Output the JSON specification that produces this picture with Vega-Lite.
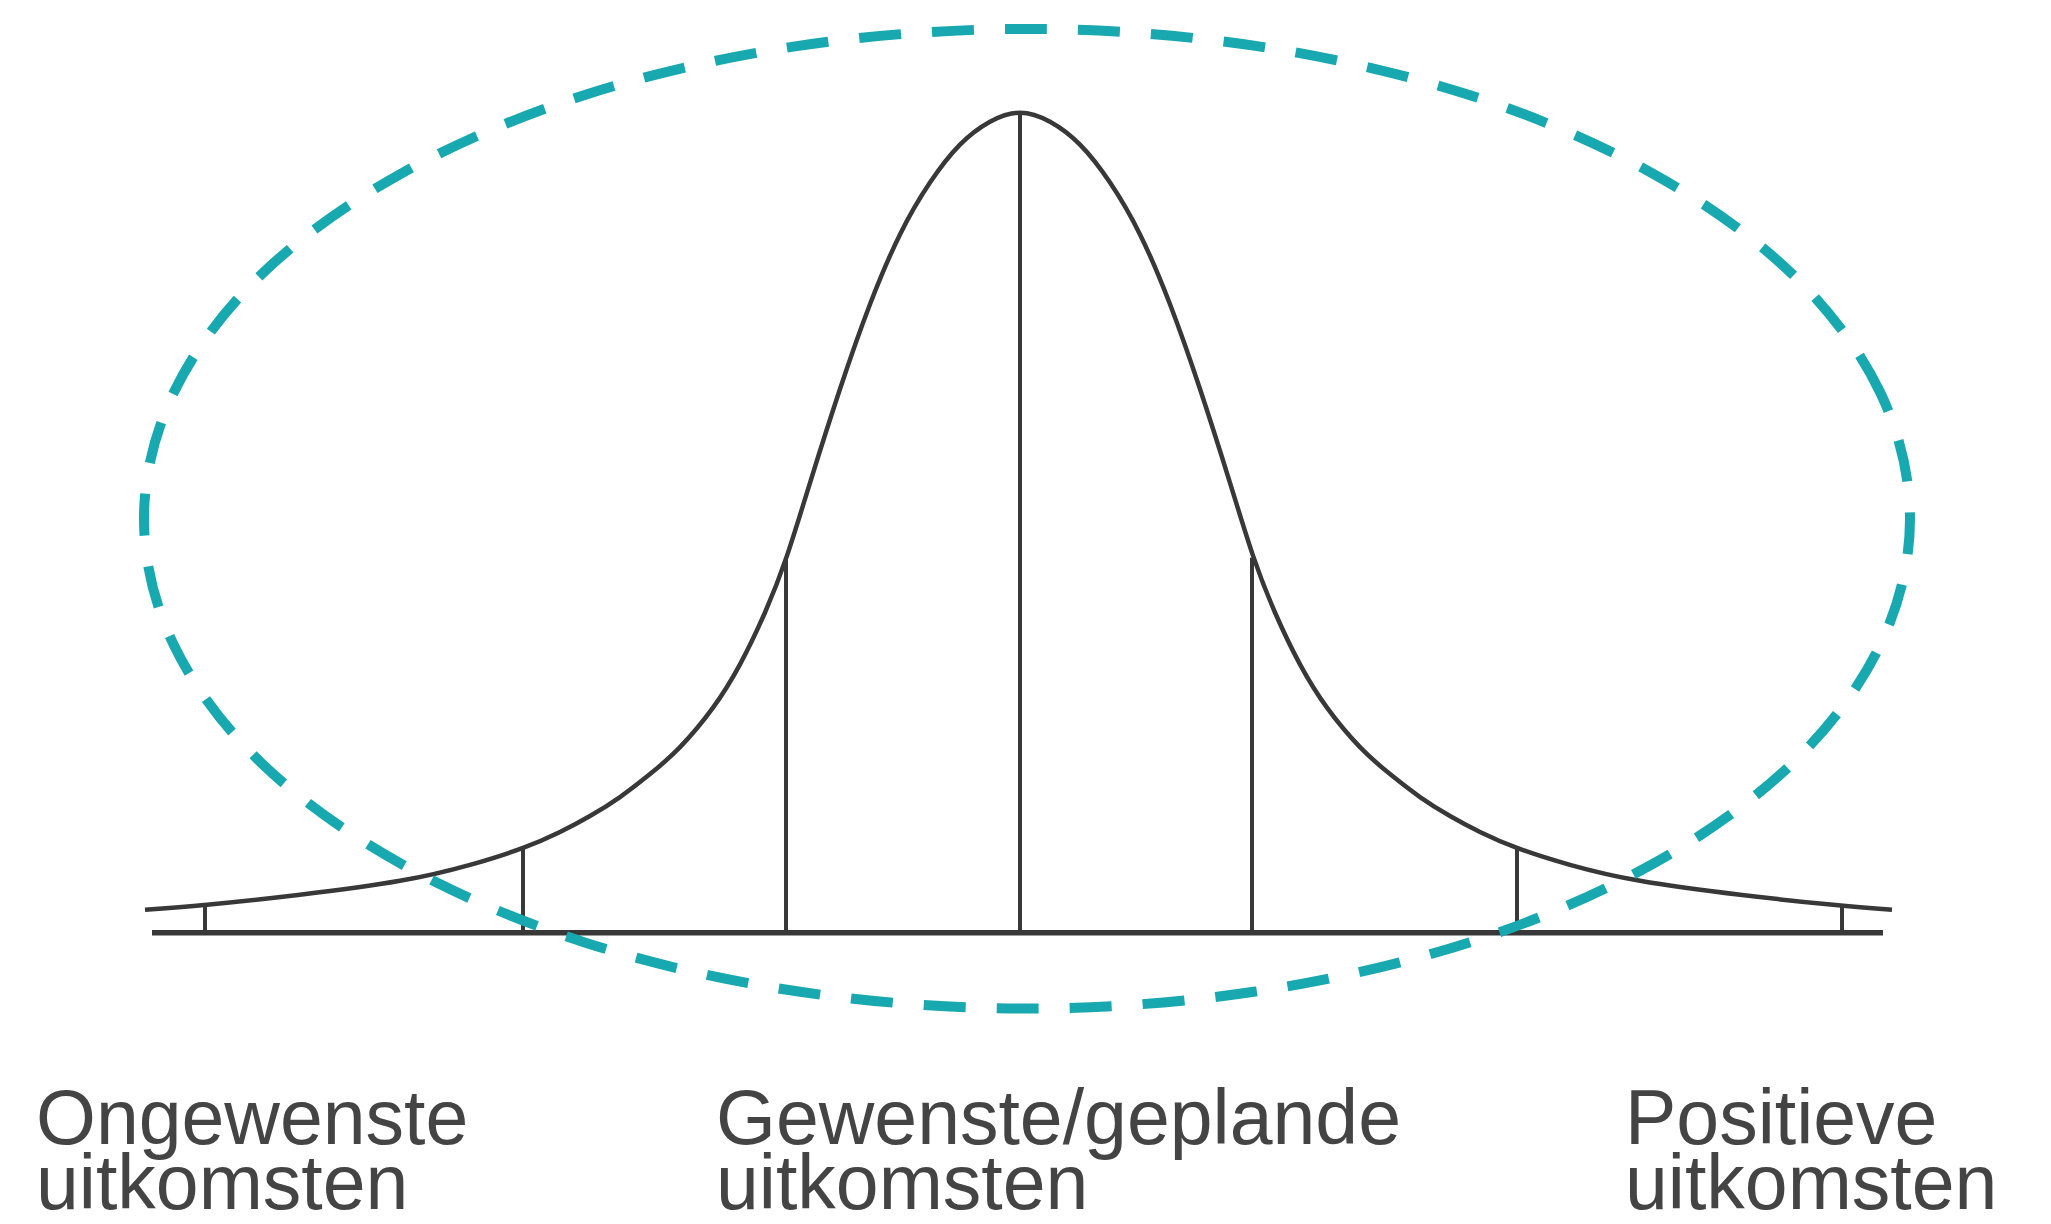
{
  "$schema": "https://vega.github.io/schema/vega-lite/v6.json",
  "autosize": {"type": "fit", "contains": "padding"},
  "width": 2051,
  "height": 1224,
  "padding": 0,
  "background": "white",
  "config": {"view": {"stroke": null}},
  "datasets": {
    "curve": [
      {"x": -3.5, "y": 0.115}, {"x": -3.252, "y": 0.14}, {"x": -2.88, "y": 0.19}, {"x": -2.48, "y": 0.26},
      {"x": -2.2, "y": 0.34}, {"x": -1.988, "y": 0.425}, {"x": -1.84, "y": 0.505}, {"x": -1.72, "y": 0.585},
      {"x": -1.6, "y": 0.68}, {"x": -1.48, "y": 0.795}, {"x": -1.36, "y": 0.93}, {"x": -1.228, "y": 1.128},
      {"x": -1.12, "y": 1.345}, {"x": -1.02, "y": 1.605}, {"x": -0.932, "y": 1.89}, {"x": -0.84, "y": 2.255},
      {"x": -0.72, "y": 2.725}, {"x": -0.6, "y": 3.15}, {"x": -0.48, "y": 3.5}, {"x": -0.36, "y": 3.76},
      {"x": -0.24, "y": 3.95}, {"x": -0.12, "y": 4.065}, {"x": 0, "y": 4.11},
      {"x": 0.12, "y": 4.065}, {"x": 0.24, "y": 3.95}, {"x": 0.36, "y": 3.76}, {"x": 0.48, "y": 3.5},
      {"x": 0.6, "y": 3.15}, {"x": 0.72, "y": 2.725}, {"x": 0.84, "y": 2.255}, {"x": 0.932, "y": 1.89},
      {"x": 1.02, "y": 1.605}, {"x": 1.12, "y": 1.345}, {"x": 1.228, "y": 1.128}, {"x": 1.36, "y": 0.93},
      {"x": 1.48, "y": 0.795}, {"x": 1.6, "y": 0.68}, {"x": 1.72, "y": 0.585}, {"x": 1.84, "y": 0.505},
      {"x": 1.988, "y": 0.425}, {"x": 2.2, "y": 0.34}, {"x": 2.48, "y": 0.26}, {"x": 2.88, "y": 0.19},
      {"x": 3.252, "y": 0.14}, {"x": 3.488, "y": 0.115}
    ],
    "verticals": [
      {"x": -3.26, "top": 0.14, "bottom": 0}, {"x": -1.988, "top": 0.425, "bottom": 0}, {"x": -0.936, "top": 1.88, "bottom": 0},
      {"x": 0, "top": 4.11, "bottom": 0}, {"x": 0.928, "top": 1.88, "bottom": 0}, {"x": 1.988, "top": 0.425, "bottom": 0}, {"x": 3.288, "top": 0.135, "bottom": 0}
    ],
    "base": [{"from": -3.472, "to": 3.452, "y": 0}],
    "ellipse": [
      {"i": 0, "x": 3.56, "y": 2.075}, {"i": 1, "x": 3.44, "y": 2.71}, {"i": 2, "x": 3.088, "y": 3.3025},
      {"i": 3, "x": 2.524, "y": 3.81}, {"i": 4, "x": 1.794, "y": 4.2}, {"i": 5, "x": 0.942, "y": 4.445},
      {"i": 6, "x": 0.028, "y": 4.53}, {"i": 7, "x": -0.886, "y": 4.445}, {"i": 8, "x": -1.738, "y": 4.2},
      {"i": 9, "x": -2.468, "y": 3.81}, {"i": 10, "x": -3.032, "y": 3.3025}, {"i": 11, "x": -3.384, "y": 2.71},
      {"i": 12, "x": -3.504, "y": 2.075}, {"i": 13, "x": -3.384, "y": 1.44}, {"i": 14, "x": -3.032, "y": 0.8475},
      {"i": 15, "x": -2.468, "y": 0.34}, {"i": 16, "x": -1.738, "y": -0.05}, {"i": 17, "x": -0.886, "y": -0.295},
      {"i": 18, "x": 0.028, "y": -0.38}, {"i": 19, "x": 0.942, "y": -0.295}, {"i": 20, "x": 1.794, "y": -0.05},
      {"i": 21, "x": 2.524, "y": 0.34}, {"i": 22, "x": 3.088, "y": 0.8475}, {"i": 23, "x": 3.44, "y": 1.44}
    ],
    "labels": [
      {"x": -3.936, "y": -1.06, "label": "Ongewenste\nuitkomsten"},
      {"x": -1.216, "y": -1.06, "label": "Gewenste/geplande\nuitkomsten"},
      {"x": 2.42, "y": -1.06, "label": "Positieve\nuitkomsten"}
    ]
  },
  "layer": [
    {
      "data": {"name": "curve"},
      "mark": {"type": "line", "interpolate": "natural", "color": "#383838", "strokeWidth": 4.5},
      "encoding": {
        "x": {"field": "x", "type": "quantitative", "scale": {"domain": [-4.08, 4.124], "nice": false, "zero": false}, "axis": null},
        "y": {"field": "y", "type": "quantitative", "scale": {"domain": [-1.445, 4.675], "nice": false, "zero": false}, "axis": null}
      }
    },
    {
      "data": {"name": "verticals"},
      "mark": {"type": "rule", "color": "#383838", "strokeWidth": 4},
      "encoding": {
        "x": {"field": "x", "type": "quantitative"},
        "y": {"field": "top", "type": "quantitative"},
        "y2": {"field": "bottom"}
      }
    },
    {
      "data": {"name": "base"},
      "mark": {"type": "rule", "color": "#383838", "strokeWidth": 5.5},
      "encoding": {
        "x": {"field": "from", "type": "quantitative"},
        "x2": {"field": "to"},
        "y": {"field": "y", "type": "quantitative"}
      }
    },
    {
      "data": {"name": "ellipse"},
      "mark": {"type": "line", "interpolate": "cardinal-closed", "color": "#17a8b0", "strokeWidth": 10, "strokeDash": [42, 31], "strokeCap": "butt"},
      "encoding": {
        "x": {"field": "x", "type": "quantitative"},
        "y": {"field": "y", "type": "quantitative"},
        "order": {"field": "i", "type": "quantitative"}
      }
    },
    {
      "data": {"name": "labels"},
      "mark": {"type": "text", "align": "left", "baseline": "alphabetic", "font": "Liberation Sans", "fontSize": 77, "lineHeight": 65, "lineBreak": "\n", "color": "#444444"},
      "encoding": {
        "x": {"field": "x", "type": "quantitative"},
        "y": {"field": "y", "type": "quantitative"},
        "text": {"field": "label", "type": "nominal"}
      }
    }
  ]
}
